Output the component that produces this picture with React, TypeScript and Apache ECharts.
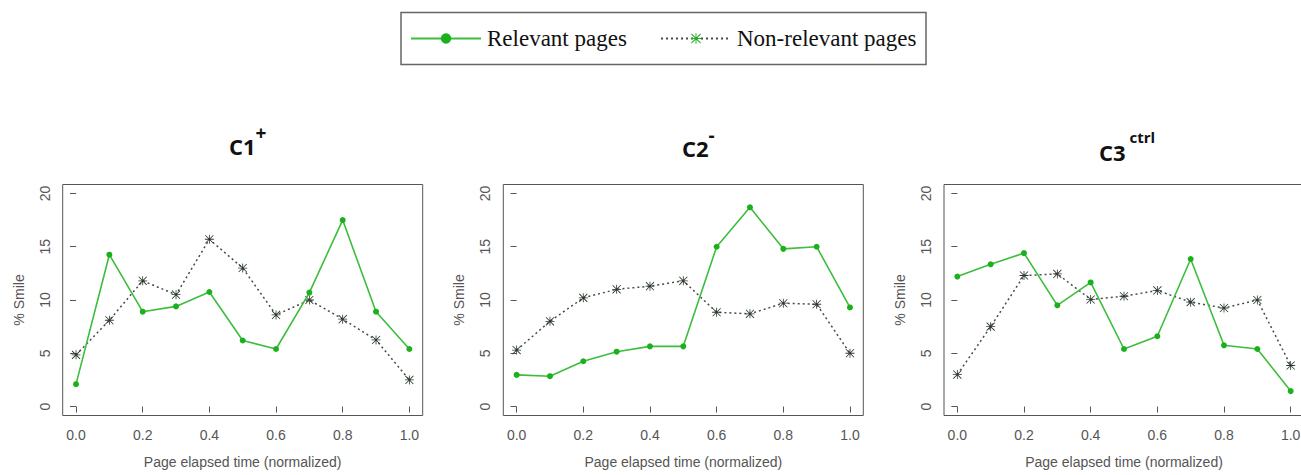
import React, { useEffect, useRef } from "react";
import * as echarts from "echarts";

const xValues = [0, 0.1, 0.2, 0.3, 0.4, 0.5, 0.6, 0.7, 0.8, 0.9, 1.0];
const xTicks = [0, 0.2, 0.4, 0.6, 0.8, 1.0];
const yTicks = [0, 5, 10, 15, 20];

const c1Relevant = [2.1, 14.25, 8.9, 9.4, 10.75, 6.2, 5.4, 10.7, 17.5, 8.9, 5.4];
const c1NonRelevant = [4.85, 8.1, 11.8, 10.5, 15.7, 13.0, 8.6, 10.0, 8.2, 6.25, 2.5];
const c2Relevant = [2.97, 2.85, 4.25, 5.15, 5.65, 5.65, 15.0, 18.7, 14.8, 15.0, 9.3];
const c2NonRelevant = [5.3, 8.0, 10.2, 11.0, 11.3, 11.8, 8.85, 8.7, 9.7, 9.6, 5.0];
const c3Relevant = [12.2, 13.35, 14.4, 9.5, 11.65, 5.4, 6.6, 13.85, 5.75, 5.4, 1.45];
const c3NonRelevant = [3.0, 7.5, 12.3, 12.45, 10.05, 10.35, 10.9, 9.8, 9.25, 10.0, 3.85];

const panelTitles = [
  { main: "C1", sup: "+", style: "s" },
  { main: "C2", sup: "-", style: "s" },
  { main: "C3", sup: " ctrl", style: "t" },
];
const relevantName = "Relevant pages";
const nonRelevantName = "Non-relevant pages";
const xAxisTitle = "Page elapsed time (normalized)";
const yAxisTitle = "% Smile";

const panels = [
  { rel: c1Relevant, non: c1NonRelevant },
  { rel: c2Relevant, non: c2NonRelevant },
  { rel: c3Relevant, non: c3NonRelevant },
];

const STAR =
  "path://M9.1 0H10.9V20H9.1Z M0 9.1H20V10.9H0Z M1.7 0.4L19.6 18.3L18.3 19.6L0.4 1.7Z M18.3 0.4L19.6 1.7L1.7 19.6L0.4 18.3Z";

const GREEN_LINE = "#3dbd3d";
const GREEN_PT = "#1cb01c";
const GRAY = "#555555";
const STAR_COLOR = "#2c3a2c";

export default function App() {
  const ref = useRef<HTMLDivElement>(null);
  useEffect(() => {
    if (!ref.current) return;
    const chart = echarts.init(ref.current, undefined, { renderer: "svg" });
    const gridLefts = [62.7, 503.3, 944];
    const titleLefts = [229, 682, 1099];
    const titleTops = [123, 125, 129];

    const grids = gridLefts.map((l) => ({
      left: l,
      top: 184.5,
      width: 360,
      height: 231,
      show: true,
      borderColor: "#555",
      borderWidth: 1,
      backgroundColor: "transparent",
      containLabel: false,
      outerBoundsMode: "none",
    }));

    const xAxes = gridLefts.map((_, i) => ({
      type: "value",
      gridIndex: i,
      min: -0.04,
      max: 1.04,
      name: xAxisTitle,
      nameLocation: "middle",
      nameGap: 39,
      nameTextStyle: { fontFamily: "Liberation Sans", fontSize: 14, color: GRAY },
      axisLine: { show: false },
      splitLine: { show: false },
      axisTick: { show: true, inside: false, length: 6, customValues: xTicks, lineStyle: { color: GRAY } },
      axisLabel: {
        customValues: xTicks,
        margin: 12,
        fontFamily: "Liberation Sans",
        fontSize: 14,
        color: GRAY,
        formatter: (v: number) => v.toFixed(1),
      },
    }));

    const yAxes = gridLefts.map((_, i) => ({
      type: "value",
      gridIndex: i,
      min: -0.84,
      max: 20.84,
      name: yAxisTitle,
      nameLocation: "middle",
      nameGap: 37,
      nameRotate: 90,
      nameTextStyle: { fontFamily: "Liberation Sans", fontSize: 14, color: GRAY },
      axisLine: { show: false },
      splitLine: { show: false },
      axisTick: { show: true, inside: false, length: 6, customValues: yTicks, lineStyle: { color: GRAY } },
      axisLabel: {
        customValues: yTicks,
        rotate: 90,
        margin: 11,
        fontFamily: "Liberation Sans",
        fontSize: 14,
        color: GRAY,
        formatter: (v: number) => String(Math.round(v)),
      },
    }));

    const series: any[] = [];
    panels.forEach((p, i) => {
      series.push({
        type: "line",
        name: relevantName,
        xAxisIndex: i,
        yAxisIndex: i,
        data: xValues.map((x, k) => [x, p.rel[k]]),
        symbol: "circle",
        symbolSize: 6,
        lineStyle: { color: GREEN_LINE, width: 1.6, type: "solid" },
        itemStyle: { color: GREEN_PT },
        z: 3,
      });
      series.push({
        type: "line",
        name: nonRelevantName,
        xAxisIndex: i,
        yAxisIndex: i,
        data: xValues.map((x, k) => [x, p.non[k]]),
        symbol: STAR,
        symbolSize: 9,
        lineStyle: { color: "#4a4a4a", width: 1.5, type: [2, 3] },
        itemStyle: { color: STAR_COLOR },
        z: 2,
      });
    });

    const titles = panelTitles.map((t, i) => ({
      text: `{m|${t.main}}{${t.style}|${t.sup}}`,
      left: titleLefts[i],
      top: titleTops[i],
      padding: 0,
      textStyle: {
        rich: {
          m: { fontFamily: "Open Sans", fontWeight: "bold", fontSize: 22, color: "#111", lineHeight: 34, verticalAlign: "bottom" },
          s: { fontFamily: "Open Sans", fontWeight: "bold", fontSize: 19, color: "#111", lineHeight: 20, verticalAlign: "top" },
          t: { fontFamily: "Open Sans", fontWeight: "bold", fontSize: 15, color: "#111", lineHeight: 20, verticalAlign: "top" },
        },
      },
    }));

    const legendBase = {
      top: 27,
      padding: 0,
      itemWidth: 70,
      itemHeight: 13,
      itemGap: 0,
      selectedMode: false,
      textStyle: { fontFamily: "Liberation Serif", fontSize: 23, color: "#111", lineHeight: 23, padding: [0, 0, 0, 1] },
    };

    chart.setOption({
      animation: false,
      backgroundColor: "#ffffff",
      title: titles,
      legend: [
        { ...legendBase, left: 410, data: [{ name: relevantName }] },
        { ...legendBase, left: 660, data: [{ name: nonRelevantName, itemStyle: { color: GREEN_PT } }] },
      ],
      graphic: [
        {
          type: "rect",
          shape: { x: 401, y: 12.5, width: 525, height: 52 },
          style: { fill: "transparent", stroke: "#666", lineWidth: 1.5 },
          silent: true,
        },
      ],
      grid: grids,
      xAxis: xAxes,
      yAxis: yAxes,
      series,
    });
    return () => chart.dispose();
  }, []);
  return (
    <div
      ref={ref}
      style={{ position: "absolute", left: 0, top: 0, width: 1301, height: 475 }}
    />
  );
}
